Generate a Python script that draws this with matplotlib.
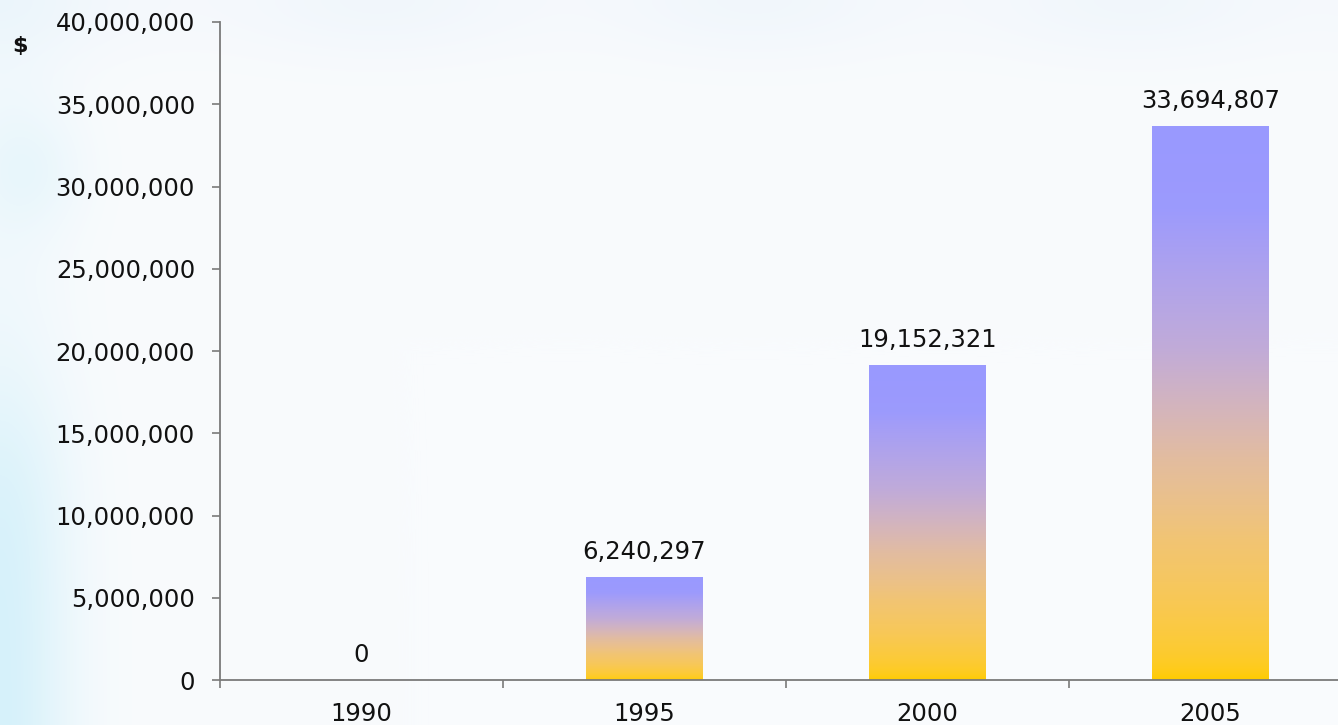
import numpy as np
import matplotlib
matplotlib.use("Agg")
import matplotlib.pyplot as plt
from matplotlib.colors import to_rgb
from matplotlib.ticker import FuncFormatter, FixedLocator

# Chart data
years = ["1990", "1995", "2000", "2005"]
amounts = [0, 6240297, 19152321, 33694807]
y_tick_values = [0, 5000000, 10000000, 15000000, 20000000,
                 25000000, 30000000, 35000000, 40000000]
unit_label = "$"

FONT = "DejaVu Sans"
FS = 17.5
TOP_COLOR = np.array(to_rgb("#9999FF"))
BOTTOM_COLOR = np.array(to_rgb("#FFCC00"))

W_PX, H_PX = 1338, 725
fig = plt.figure(figsize=(W_PX / 100, H_PX / 100), dpi=100)

# Soft backdrop: near-white with a faint blue haze at the top and a cyan glow on the left
bg = fig.add_axes([0, 0, 1, 1])
bg.axis("off")
X, Y = np.meshgrid(np.arange(W_PX), np.arange(H_PX))
img = np.empty((H_PX, W_PX, 3))
img[:] = np.array([249, 251, 253]) / 255
top_tint = np.array([236, 244, 251]) / 255
w_top = 0.6 * np.exp(-(Y / 60.0) ** 2) * (0.5 + 0.5 * np.cos(X / 120.0) ** 2)
img = img * (1 - w_top[..., None]) + top_tint * w_top[..., None]
left_tint = np.array([214, 241, 250]) / 255
w_left = np.exp(-(X / 70.0) ** 2) * (0.2 + 0.8 / (1 + np.exp(-(Y - 420) / 50.0)))
w_left += 0.3 * np.exp(-((X - 30) / 55.0) ** 2 - ((Y - 170) / 60.0) ** 2)
w_left = np.clip(w_left, 0, 1)
img = img * (1 - w_left[..., None]) + left_tint * w_left[..., None]
bg.imshow(img, extent=[0, 1, 0, 1], aspect="auto", transform=bg.transAxes)

# Main plotting area
ax = fig.add_axes([220 / W_PX, 45 / H_PX, 1118 / W_PX, 658 / H_PX])
ax.patch.set_alpha(0)

x = np.arange(len(years))
bar_w = 0.41
bars = ax.bar(x, amounts, width=bar_w, color="none", edgecolor="none", zorder=2)

# Vertical gradient for each bar: lavender at the top blending to gold at the base,
# mixed in linear light so the midpoint passes through a soft pink
def to_lin(c):
    return np.where(c <= 0.04045, c / 12.92, ((c + 0.055) / 1.055) ** 2.4)

def to_srgb(c):
    return np.where(c <= 0.0031308, c * 12.92, 1.055 * c ** (1 / 2.4) - 0.055)

n = 256
p = np.linspace(0, 1, n)  # 0 at top, 1 at bottom
mix = np.interp(p, [0.0, 0.15, 0.4, 0.5, 0.6, 0.75, 0.9, 1.0],
                [0.0, 0.02, 0.31, 0.48, 0.65, 0.83, 0.94, 1.0])
lin = to_lin(TOP_COLOR) * (1 - mix[:, None]) + to_lin(BOTTOM_COLOR) * mix[:, None]
grad = np.clip(to_srgb(lin), 0, 1)[:, None, :]
for xi, val, patch in zip(x, amounts, bars):
    if val <= 0:
        continue
    im = ax.imshow(grad, extent=[xi - bar_w / 2, xi + bar_w / 2, 0, val],
                   aspect="auto", origin="upper", zorder=2, interpolation="bilinear")
    im.set_clip_path(patch)

# Value labels above the bars
for xi, val in zip(x, amounts):
    ax.annotate(f"{val:,}", xy=(xi, val), xytext=(0, 13), textcoords="offset points",
                ha="center", va="baseline", fontsize=FS, family=FONT, color="#111111")

ax.set_xlim(-0.5, -0.5 + 1118 / 283)
ax.set_ylim(0, 40000000)

for side in ("top", "right"):
    ax.spines[side].set_visible(False)
for side in ("left", "bottom"):
    ax.spines[side].set_color("#7a7a7a")
    ax.spines[side].set_linewidth(1.3)

ax.yaxis.set_major_locator(FixedLocator(y_tick_values))
ax.yaxis.set_major_formatter(FuncFormatter(lambda v, p: f"{int(v):,}"))
ax.tick_params(axis="y", direction="out", length=6, width=1.2, color="#7a7a7a",
               pad=12, labelsize=FS, labelcolor="#111111")

# Category boundary ticks on the x-axis, labels centred under the bars
ax.xaxis.set_major_locator(FixedLocator([-0.5, 0.5, 1.5, 2.5]))
ax.xaxis.set_major_formatter(FuncFormatter(lambda v, p: ""))
ax.set_xticks(x, labels=years, minor=True)
ax.tick_params(axis="x", which="major", direction="out", length=6, width=1.2,
               color="#7a7a7a")
ax.tick_params(axis="x", which="minor", length=0, pad=16, labelsize=FS,
               labelcolor="#111111")

for lbl in ax.get_yticklabels() + ax.get_xticklabels(minor=True):
    lbl.set_family(FONT)

fig.text(20 / W_PX, 1 - 46 / H_PX, unit_label, ha="center", va="center",
         fontsize=16, fontweight="bold", family=FONT, color="#111111")

fig.savefig("out.png", dpi=100)
